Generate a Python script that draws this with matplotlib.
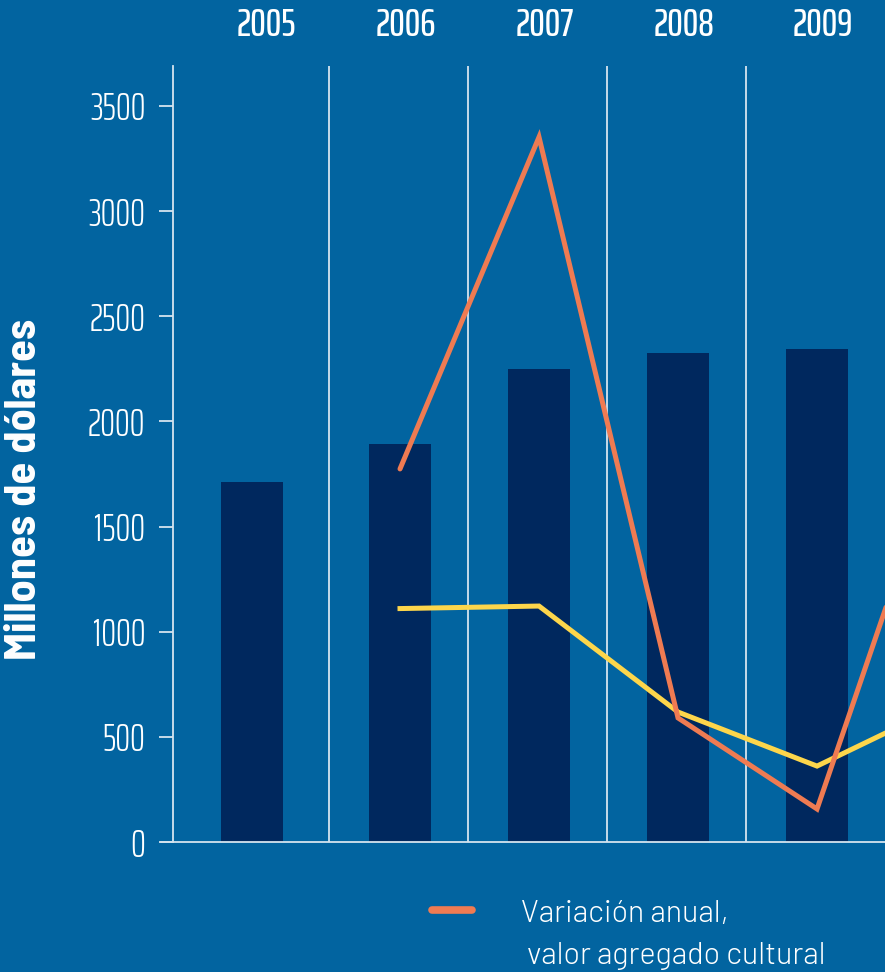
import numpy as np
import matplotlib
matplotlib.use("Agg")
import matplotlib.pyplot as plt
from matplotlib.lines import Line2D

# ---- data ----
years = ["2005", "2006", "2007", "2008", "2009"]
valor_agregado = [1712, 1893, 2249, 2325, 2344]          # bars (millones de dólares)
line_years = ["2006", "2007", "2008", "2009", "2010"]      # 2010 lies past the cropped right edge
variacion_anual = [1774, 3352, 590, 157, 2090]             # orange line
serie_amarilla = [1110, 1122, 618, 361, 680]               # yellow line
y_ticks = [0, 500, 1000, 1500, 2000, 2500, 3000, 3500]
y_label = "Millones de dólares"
legend_label = "Variación anual,\n valor agregado cultural"

# ---- style ----
BG = "#0264a0"
BAR = "#00285e"
ORANGE = "#ef7b52"
YELLOW = "#fdd64b"
RULE = "#d5e4ef"

TICK_FONT = ["Saira ExtraCondensed", "DejaVu Sans"]
LABEL_FONT = ["Barlow Semi Condensed", "Barlow Condensed", "DejaVu Sans"]
LEGEND_FONT = ["Barlow", "DejaVu Sans"]

fig = plt.figure(figsize=(8.85, 9.72), dpi=100, facecolor=BG)
ax = fig.add_axes([173 / 885, 1 - 842 / 972, 1 - 173 / 885, (842 - 66) / 972])
ax.set_facecolor(BG)

x = np.arange(len(years), dtype=float)
bar_x = x.copy()
bar_x[0] -= 0.065   # first column is a little wider in the layout
ax.bar(bar_x, valor_agregado, width=0.446, color=BAR, zorder=2)

lx = np.array([int(y) - int(years[0]) for y in line_years], dtype=float)
ax.plot(lx, serie_amarilla, color=YELLOW, lw=3.6, solid_joinstyle="miter", zorder=3)
ax.plot(lx, variacion_anual, color=ORANGE, lw=3.6, solid_joinstyle="miter",
        solid_capstyle="round", zorder=4)

ax.set_xlim(-0.633, 4.489)
ax.set_ylim(0, 3690)

# category separators
for sep in x[:-1] + 0.49:
    ax.axvline(sep, color=RULE, lw=1.3, zorder=1)

for s in ["top", "right", "bottom"]:
    ax.spines[s].set_visible(False)
ax.spines["left"].set_color(RULE)
ax.spines["left"].set_linewidth(1.3)
ax.axhline(0, color=RULE, lw=1.3, zorder=5, clip_on=False)
ax.plot([-0.72, -0.633], [0, 0], color=RULE, lw=1.3, clip_on=False)

ax.set_yticks(y_ticks)
ax.set_yticklabels([str(t) for t in y_ticks], family=TICK_FONT, weight=300,
                   fontsize=27, color="white")
ax.tick_params(axis="y", length=10, width=1.3, color=RULE, pad=10)
ax.set_xticks([])

# year labels on top
for xi, yr in zip(x, years):
    ax.text(xi + 0.04, 1.0 + (66 - 36) / 776, yr, transform=ax.get_xaxis_transform(),
            ha="center", va="baseline", family=TICK_FONT, weight=500,
            fontsize=28, color="white", clip_on=False)

fig.text(25 / 885, 1 - 489 / 972, y_label, rotation=90, ha="center", va="center",
         family=LABEL_FONT, weight="bold", fontsize=32, color="white")

# legend
fig.add_artist(Line2D([432 / 885, 472 / 885], [1 - 910 / 972] * 2, color=ORANGE,
                      lw=5.5, solid_capstyle="round"))
fig.text(521 / 885, 1 - 935 / 972, legend_label, ha="left", va="center",
         family=LEGEND_FONT, weight=300, fontsize=22, color="white",
         linespacing=1.65)

fig.savefig("out.png", dpi=100, facecolor=BG)
